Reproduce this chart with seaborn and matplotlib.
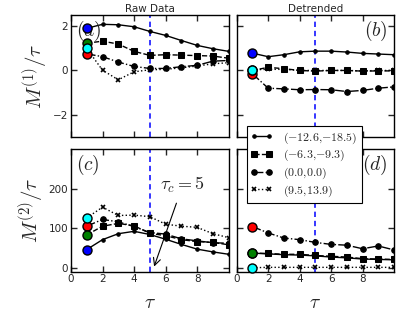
import matplotlib
matplotlib.use("Agg")
import matplotlib.pyplot as plt
import seaborn as sns
import numpy as np
import pandas as pd

tau = [1, 2, 3, 4, 5, 6, 7, 8, 9, 10]
series_labels = ["$(-12.6{,}{-}18.5)$", "$(-6.3{,}{-}9.3)$", "$(0.0{,}0.0)$", "$(9.5{,}13.9)$"]
start_colors = ["blue", "green", "red", "cyan"]

raw_M1_s1 = [1.90, 2.08, 2.06, 1.97, 1.76, 1.58, 1.35, 1.13, 0.98, 0.86]
raw_M1_s2 = [1.23, 1.32, 1.19, 0.86, 0.68, 0.71, 0.69, 0.67, 0.65, 0.55]
raw_M1_s3 = [0.75, 0.62, 0.38, 0.18, 0.09, 0.09, 0.17, 0.23, 0.42, 0.45]
raw_M1_s4 = [0.99, 0.01, -0.42, -0.06, 0.03, 0.05, 0.12, 0.20, 0.30, 0.35]

det_M1_s1 = [0.78, 0.62, 0.71, 0.84, 0.87, 0.87, 0.83, 0.77, 0.74, 0.71]
det_M1_s2 = [0.00, 0.14, 0.08, 0.00, -0.03, 0.00, 0.00, -0.03, -0.02, -0.02]
det_M1_s3 = [-0.15, -0.80, -0.83, -0.87, -0.86, -0.87, -0.95, -0.90, -0.80, -0.74]
det_M1_s4 = [0.03, 0.05, 0.05, 0.00, 0.00, 0.00, 0.00, -0.02, 0.00, 0.00]

raw_M2_s1 = [46, 71, 86, 92, 84, 72, 59, 47, 40, 34]
raw_M2_s2 = [83, 105, 112, 106, 87, 81, 71, 66, 64, 58]
raw_M2_s3 = [105, 122, 116, 104, 89, 85, 73, 68, 63, 62]
raw_M2_s4 = [126, 153, 132, 133, 129, 110, 105, 102, 86, 76]

det_M2_s1 = [37, 35, 33, 32, 30, 27, 25, 22, 21, 20]
det_M2_s2 = [37, 36, 34, 34, 31, 29, 27, 23, 22, 21]
det_M2_s3 = [104, 88, 75, 71, 64, 59, 57, 48, 55, 45]
det_M2_s4 = [0, 1, 1, 1, 1, 1, 1, 1, 1, 1]

tau_c = 5
x_ticks = [0, 2, 4, 6, 8]
m1_ticks = [-2, 0, 2]
m2_ticks = [0, 100, 200]

sns.set_style("ticks")
plt.rcParams["mathtext.fontset"] = "cm"
plt.rcParams["font.family"] = ["DejaVu Sans"]

fig = plt.figure(figsize=(4.15, 3.12), dpi=100)
W, H = 415.0, 312.0
def rect(x0, x1, ytop, ybot):
    return [x0 / W, 1 - ybot / H, (x1 - x0) / W, (ybot - ytop) / H]

ax_a = fig.add_axes(rect(71, 228.7, 15, 137))
ax_b = fig.add_axes(rect(236.7, 394, 15, 137))
ax_c = fig.add_axes(rect(71, 228.7, 149, 271.7))
ax_d = fig.add_axes(rect(236.7, 394, 149, 271.7))

styles = [
    dict(linestyle="-", marker=".", markersize=5),
    dict(linestyle="--", marker="s", markersize=4),
    dict(linestyle="-.", marker="o", markersize=4),
    dict(linestyle=":", marker="x", markersize=3.5, markeredgewidth=1.2),
]

panels = [
    (ax_a, [raw_M1_s1, raw_M1_s2, raw_M1_s3, raw_M1_s4]),
    (ax_b, [det_M1_s1, det_M1_s2, det_M1_s3, det_M1_s4]),
    (ax_c, [raw_M2_s1, raw_M2_s2, raw_M2_s3, raw_M2_s4]),
    (ax_d, [det_M2_s1, det_M2_s2, det_M2_s3, det_M2_s4]),
]

handles = []
for pi, (ax, data) in enumerate(panels):
    ax.axvline(tau_c, color="blue", linestyle=(0, (3.5, 2.5)), linewidth=1.1, zorder=1)
    for si, vals in enumerate(data):
        df = pd.DataFrame({"tau": tau, "val": vals})
        sns.lineplot(data=df, x="tau", y="val", ax=ax, color="black",
                     linewidth=1.0, markeredgecolor="black",
                     label=series_labels[si], legend=False, zorder=3,
                     **styles[si])
    if pi == 0:
        handles = list(ax.get_lines()[1:5])
    for si in [0, 2, 1, 3]:
        ax.plot([tau[0]], [data[si][0]], marker="o", markersize=6.5,
                markerfacecolor=start_colors[si], markeredgecolor="black",
                markeredgewidth=1.0, linestyle="none", zorder=5, clip_on=False)
    ax.set_xlim(0, 10)
    ax.set_xticks(x_ticks)
    ax.set_xlabel("")
    ax.set_ylabel("")
    ax.tick_params(direction="in", top=True, right=True, length=4,
                   width=1, labelsize=7.5, pad=2)
    for sp in ax.spines.values():
        sp.set_linewidth(1.0)
        sp.set_color("black")

for ax in (ax_a, ax_b):
    ax.set_ylim(-3, 2.5)
    ax.set_yticks(m1_ticks)
    ax.tick_params(labelbottom=False)
for ax in (ax_c, ax_d):
    ax.set_ylim(-10, 300)
    ax.set_yticks(m2_ticks)
    ax.set_xlabel(r"$\tau$", fontsize=14, labelpad=6)
for ax in (ax_b, ax_d):
    ax.tick_params(labelleft=False)

ax_a.set_ylabel(r"$M^{(1)}/\tau$", fontsize=15, labelpad=2)
ax_c.set_ylabel(r"$M^{(2)}/\tau$", fontsize=15, labelpad=2)
ax_a.set_title("Raw Data", fontsize=7.5, pad=2)
ax_b.set_title("Detrended", fontsize=7.5, pad=2)

ax_a.text(0.03, 0.87, "$(a)$", transform=ax_a.transAxes, fontsize=14, va="center", ha="left")
ax_b.text(0.96, 0.87, "$(b)$", transform=ax_b.transAxes, fontsize=14, va="center", ha="right")
ax_c.text(0.03, 0.87, "$(c)$", transform=ax_c.transAxes, fontsize=14, va="center", ha="left")
ax_d.text(0.96, 0.87, "$(d)$", transform=ax_d.transAxes, fontsize=14, va="center", ha="right")

ax_c.annotate(r"$\tau_c=5$", xy=(5.27, 3), xytext=(7.1, 210),
              fontsize=13, ha="center", va="center",
              arrowprops=dict(arrowstyle="->", color="black", lw=0.8,
                              shrinkA=4, shrinkB=0))

leg = fig.legend(handles, series_labels, loc="upper left",
                 bbox_to_anchor=(246.7 / W, 1 - 126 / H), borderaxespad=0,
                 fontsize=8.6, numpoints=2, fancybox=False, framealpha=1,
                 edgecolor="black", handlelength=1.8, borderpad=0.35,
                 labelspacing=0.2, handletextpad=0.9)
leg.get_frame().set_linewidth(0.8)

fig.savefig("out.png", dpi=100)
